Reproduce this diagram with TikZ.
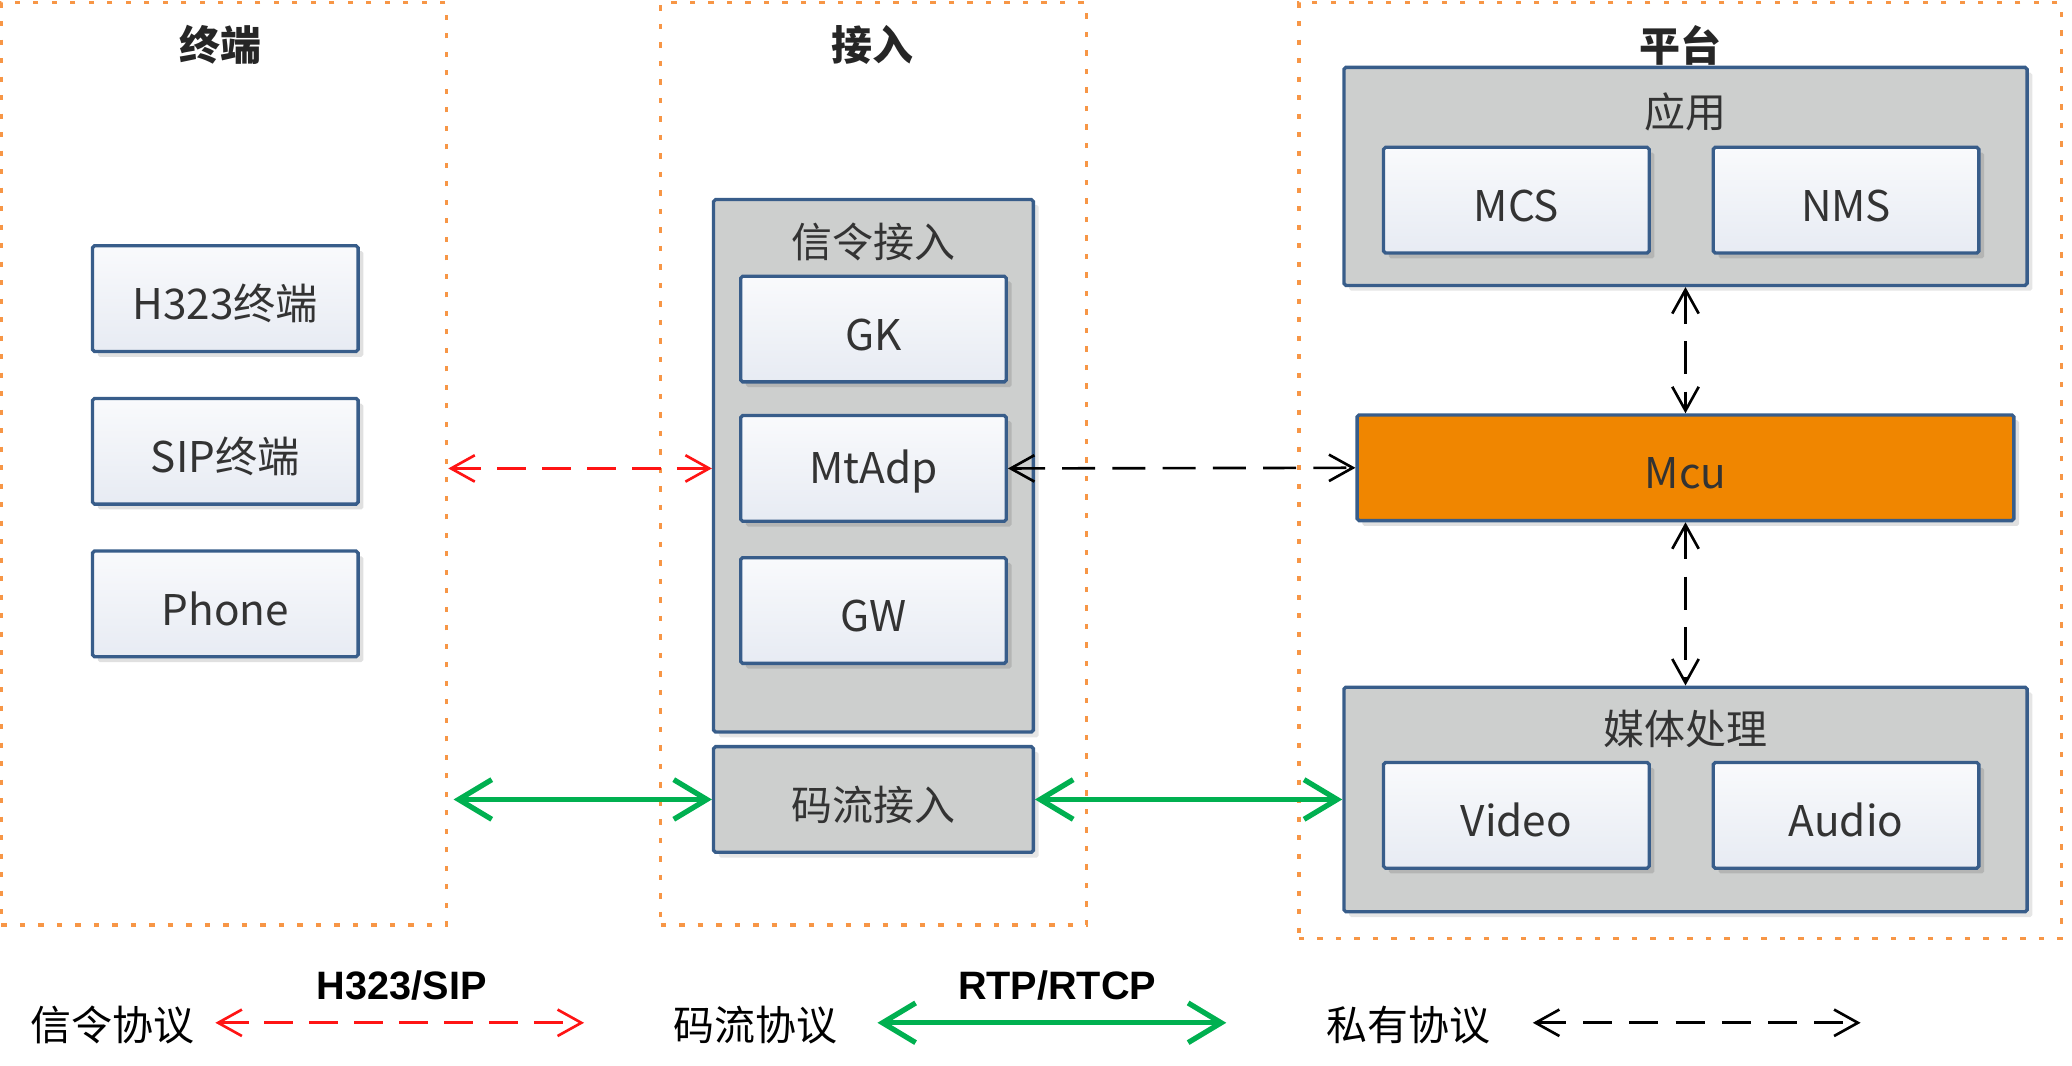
\documentclass[tikz,border=0pt]{standalone}
\usepackage{fontspec}
\setmainfont{Noto Sans CJK SC}
\newfontfamily\protofont{Liberation Sans}
\usetikzlibrary{arrows.meta,positioning,shadows}
\definecolor{boxblue}{RGB}{56,93,138}
\definecolor{panelgrey}{RGB}{205,207,206}
\definecolor{tiletop}{RGB}{249,250,252}
\definecolor{tilebottom}{RGB}{231,235,243}
\definecolor{mcuorange}{RGB}{240,134,0}
\definecolor{zoneorange}{RGB}{247,150,70}
\definecolor{streamgreen}{RGB}{0,176,80}
\definecolor{signalred}{RGB}{255,20,20}
\tikzset{
    % dotted frame round each layer
    zone/.style={draw=zoneorange, line width=2.5pt, dash pattern=on 4pt off 10pt,
        inner sep=0pt},
    zonetitle/.style={font=\fontsize{31}{36}\selectfont\bfseries, text=black!85},
    % grey container boxes
    panel/.style={draw=boxblue, fill=panelgrey, line width=2.5pt, rounded corners=1.5pt,
        drop shadow={shadow xshift=4pt, shadow yshift=-4pt, fill=black, opacity=.1},
        font=\fontsize{31}{36}\selectfont, text=black!80,
        text height=32pt, text depth=0pt, inner sep=0pt},
    paneltitle/.style={font=\fontsize{31}{36}\selectfont, text=black!80},
    % white component boxes
    tilebase/.style={draw=boxblue, line width=2.5pt, rounded corners=1.5pt,
        minimum width=201pt, minimum height=80pt, inner sep=0pt,
        text height=32pt, text depth=0pt,
        drop shadow={shadow xshift=4pt, shadow yshift=-4pt, fill=black, opacity=.12},
        font=\fontsize{32}{36}\selectfont, text=black!80},
    tile/.style={tilebase, top color=tiletop, bottom color=tilebottom},
    mcutile/.style={tilebase, fill=mcuorange},
    % connectors
    sigline/.style={draw=signalred, line width=2pt, dash pattern=on 22pt off 12pt,
        {Straight Barb[length=18pt,width=20pt]}-{Straight Barb[length=18pt,width=20pt]}},
    privline/.style={draw=black, line width=2pt, dash pattern=on 25pt off 13pt,
        {Straight Barb[length=18pt,width=20pt]}-{Straight Barb[length=18pt,width=20pt]}},
    streamline/.style={draw=streamgreen, line width=4pt,
        {Straight Barb[length=25pt,width=30pt]}-{Straight Barb[length=25pt,width=30pt]}},
    % legend
    legendtext/.style={font=\fontsize{31}{36}\selectfont, text=black},
    protolabel/.style={font=\protofont\bfseries\fontsize{30}{34}\selectfont, text=black},
}
\begin{document}
\begin{tikzpicture}[x=1pt,y=-1pt]
  \useasboundingbox (0,0) rectangle (1568,806);
  % layers
  \node[zone, minimum width=337pt, minimum height=698pt] (termzone) at (169.5,351) {};
  \node[zone, minimum width=322pt, minimum height=698pt] (accesszone) at (661,351) {};
  \node[zone, minimum width=577pt, minimum height=708pt] (platzone) at (1271.5,356) {};
  \node[zonetitle] (termtitle) at (167,34) {终端};
  \node[zonetitle] (accesstitle) at (660,34) {接入};
  \node[zonetitle] (plattitle) at (1272,34) {平台};
  % terminals
  \node[tile] (h323) at (170.5,226) {H323终端};
  \node[tile, below=33pt of h323] (sip) {SIP终端};
  \node[tile, below=33pt of sip] (phone) {Phone};
  % access
  \node[panel, minimum width=242pt, minimum height=403pt] (sigpanel) at (661,352.5) {};
  \node[paneltitle] (sigtitle) at (661,183) {信令接入};
  \node[tile] (gk) at (661,249) {GK};
  \node[tile, below=23pt of gk, text depth=9pt] (mtadp) {MtAdp};
  \node[tile, below=25pt of mtadp] (gw) {GW};
  \node[panel, minimum width=242pt, minimum height=80pt] (stream) at (661,605) {码流接入};
  % platform
  \node[panel, minimum width=517pt, minimum height=165pt] (app) at (1275.5,133.5) {};
  \node[paneltitle] (apptitle) at (1275.5,85) {应用};
  \node[tile] (mcs) at (1147.5,151.5) {MCS};
  \node[tile, right=46pt of mcs] (nms) {NMS};
  \node[mcutile, minimum width=497pt] (mcu) at (1275.5,354) {Mcu};
  \node[panel, minimum width=517pt, minimum height=170pt] (media) at (1275.5,605) {};
  \node[paneltitle] (mediatitle) at (1275.5,552) {媒体处理};
  \node[tile] (video) at (1147.5,617) {Video};
  \node[tile, right=46pt of video] (audio) {Audio};
  % connectors
  \draw[sigline] (termzone.east |- mtadp) -- (sigpanel.west |- mtadp);
  \draw[privline] (mtadp.east) -- (mcu.west);
  \draw[privline] (app.south) -- (mcu.north);
  \draw[privline] (mcu.south) -- (media.north);
  \draw[streamline, shorten <=4pt] (termzone.east |- stream) -- (stream.west);
  \draw[streamline] (stream.east) -- (media.west |- stream);
  % legend
  \node[legendtext] (siglegend) at (85,776) {信令协议};
  \coordinate (sigfrom) at (163,774);
  \coordinate (sigto) at (442,774);
  \draw[sigline] (sigfrom) -- (sigto);
  \node[protolabel] (sigproto) at (304,746) {H323/SIP};
  \node[legendtext] (streamlegend) at (572,776) {码流协议};
  \coordinate (streamfrom) at (664,774);
  \coordinate (streamto) at (928,774);
  \draw[streamline] (streamfrom) -- (streamto);
  \node[protolabel] (streamproto) at (800,746) {RTP/RTCP};
  \node[legendtext] (privlegend) at (1066,776) {私有协议};
  \coordinate (privfrom) at (1160,774);
  \coordinate (privto) at (1408,774);
  \draw[privline, dash pattern=on 22pt off 13pt] (privfrom) -- (privto);
\end{tikzpicture}
\end{document}
